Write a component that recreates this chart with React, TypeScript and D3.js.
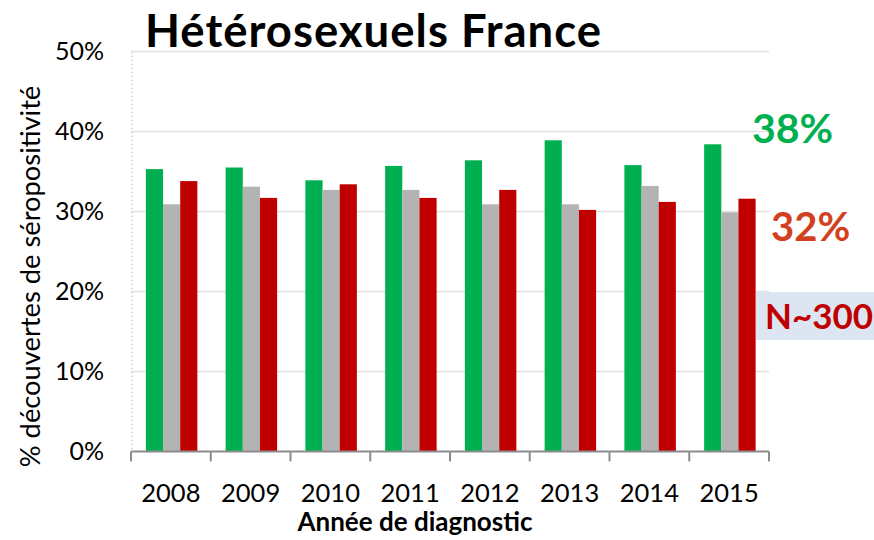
import React from "react";
import * as d3 from "d3";

const years = ["2008", "2009", "2010", "2011", "2012", "2013", "2014", "2015"];
const seriesNames = ["s1", "s2", "s3"];
const greenValues = [35.3, 35.5, 33.9, 35.7, 36.4, 38.9, 35.8, 38.4];
const grayValues = [30.9, 33.1, 32.7, 32.7, 30.9, 30.9, 33.2, 29.9];
const redValues = [33.8, 31.7, 33.4, 31.7, 32.7, 30.2, 31.2, 31.6];
const yTicks = [0, 10, 20, 30, 40, 50];
const colors = ["#00b050", "#b3b3b3", "#c00000"];

export default function App() {
  const W = 874, H = 540;
  const left = 131, right = 769, top = 51.5, bottom = 451.5;
  const x = d3.scaleBand<string>().domain(years).range([left, right]).paddingInner(0).paddingOuter(0);
  const inner = d3.scaleBand<string>().domain(seriesNames).range([1.5, x.bandwidth()]).paddingInner(0).paddingOuter(0.78);
  const y = d3.scaleLinear().domain([0, 50]).range([bottom, top]);
  const data = [greenValues, grayValues, redValues];
  const font = "Lato, 'Open Sans', sans-serif";

  return (
    <svg width={W} height={H} style={{ position: "absolute", left: 0, top: 0, background: "#fff" }}>
      <rect width={W} height={H} fill="#fff" />
      {yTicks.filter(t => t > 0).map(t => (
        <line key={t} x1={left} x2={right} y1={y(t)} y2={y(t)} stroke="#e3e3e3" strokeWidth={1.5} />
      ))}
      <line x1={left + 1} x2={left + 1} y1={top} y2={bottom} stroke="#d6d6d6" strokeWidth={1.5} strokeDasharray="2,2" />
      {years.map((yr, i) => (
        <g key={yr}>
          {data.map((arr, s) => (
            <rect key={s} x={(x(yr) as number) + (inner(seriesNames[s]) as number)} y={y(arr[i])}
              width={inner.bandwidth()} height={bottom - y(arr[i])} fill={colors[s]} />
          ))}
        </g>
      ))}
      <line x1={left} x2={right} y1={bottom} y2={bottom} stroke="#8c8c8c" strokeWidth={2} />
      {[...years.map(yr => x(yr) as number), right].map((px, i) => (
        <line key={i} x1={px} x2={px} y1={bottom} y2={bottom + 10} stroke="#8c8c8c" strokeWidth={2} />
      ))}
      {yTicks.map(t => (
        <text key={t} x={104} y={y(t) + 8.5} textAnchor="end" fontFamily={font} fontSize={25} fill="#000">{t}%</text>
      ))}
      {years.map(yr => (
        <text key={yr} x={(x(yr) as number) + x.bandwidth() / 2} y={502} textAnchor="middle" fontFamily={font} fontSize={25.5} fill="#000">{yr}</text>
      ))}
      <text x={415} y={531} textAnchor="middle" fontFamily={font} fontSize={26} fontWeight="bold" fill="#000">Année de diagnostic</text>
      <text transform={`translate(40,${276.5}) rotate(-90)`} textAnchor="middle" fontFamily={font} fontSize={27.3} fill="#000">% découvertes de séropositivité</text>
      <text x={145} y={47} fontFamily={font} fontSize={45.5} fontWeight="bold" letterSpacing={1} fill="#000">Hétérosexuels France</text>
      <text x={752} y={143} fontFamily={font} fontSize={41} fontWeight="bold" fill="#00b050">38%</text>
      <text x={771} y={241} fontFamily={font} fontSize={40} fontWeight="bold" fill="#d3401f">32%</text>
      <rect x={756} y={292} width={118} height={48} fill="#dce6f2" />
      <text x={765} y={329} fontFamily={font} fontSize={35} fontWeight="bold" fill="#c00000">N~300</text>
    </svg>
  );
}
